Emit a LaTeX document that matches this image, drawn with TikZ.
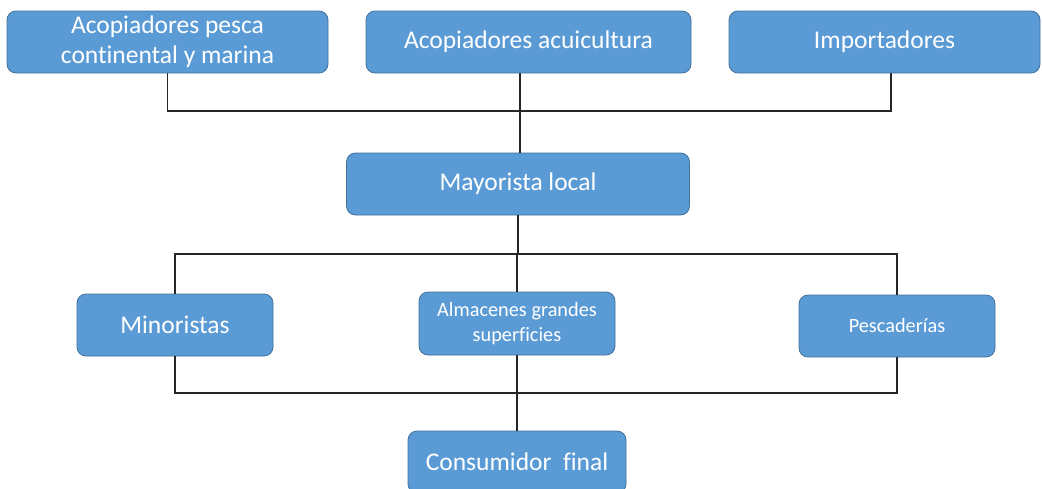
\documentclass[tikz,border=0pt]{standalone}
\usepackage{fontspec}
\setmainfont{Carlito}[Ligatures=NoCommon]
\usepackage{tikz}
\usetikzlibrary{positioning}
\usepackage{xcolor}
\definecolor{boxblue}{RGB}{91, 155, 213}
\definecolor{boxedge}{RGB}{65, 113, 156}

\begin{document}
\begin{tikzpicture}[x=1pt,y=-1pt,
  box/.style={rectangle,draw=boxedge,fill=boxblue,rounded corners=9pt,
    line width=0.8pt,outer sep=0pt,minimum height=62pt,align=center,
    text=white,font=\fontsize{25.5}{30}\selectfont},
  small/.style={box,minimum width=196pt,font=\fontsize{20.3}{25}\selectfont},
  line/.style={draw=black!85,line width=1.3pt}
]
  \useasboundingbox (0,0) rectangle (1042,488);
  % top row
  \node[box,minimum width=321pt] (pesca) at (167.5,42)
    {Acopiadores pesca\\continental y marina};
  \node[box,minimum width=325pt,right=38pt of pesca] (acu)
    {Acopiadores acuicultura};
  \node[box,minimum width=311pt,right=38pt of acu] (imp)
    {Importadores};
  % middle
  \node[box,minimum width=343pt] (may) at (518,184) {Mayorista local};
  \node[box,minimum width=196pt] (mino) at (175,325) {Minoristas};
  \node[small,minimum height=63pt] (alm) at (517,323.5)
    {Almacenes grandes\\superficies};
  \node[small] (pes) at (897,326) {Pescaderías};
  \node[box,minimum width=218pt] (con) at (517,462) {Consumidor~ final};
  % buses
  \coordinate (b1) at (0,111);
  \coordinate (b2) at (0,254);
  \coordinate (b3) at (0,393);
  \draw[line] (pesca.south) -- (pesca.south |- b1)
    -- ([xshift=6.5pt]imp.south |- b1) -- ([xshift=6.5pt]imp.south);
  \draw[line] ([xshift=-8.5pt]acu.south) -- ([xshift=-8.5pt]acu.south |- may.north);
  \draw[line] (may.south) -- (may.south |- b2);
  \draw[line] (mino.north) -- (mino.north |- b2) -- (pes.north |- b2) -- (pes.north);
  \draw[line] (alm.north) -- (alm.north |- b2);
  \draw[line] (mino.south) -- (mino.south |- b3) -- (pes.south |- b3) -- (pes.south);
  \draw[line] (alm.south) -- (con.north);
\end{tikzpicture}
\end{document}
